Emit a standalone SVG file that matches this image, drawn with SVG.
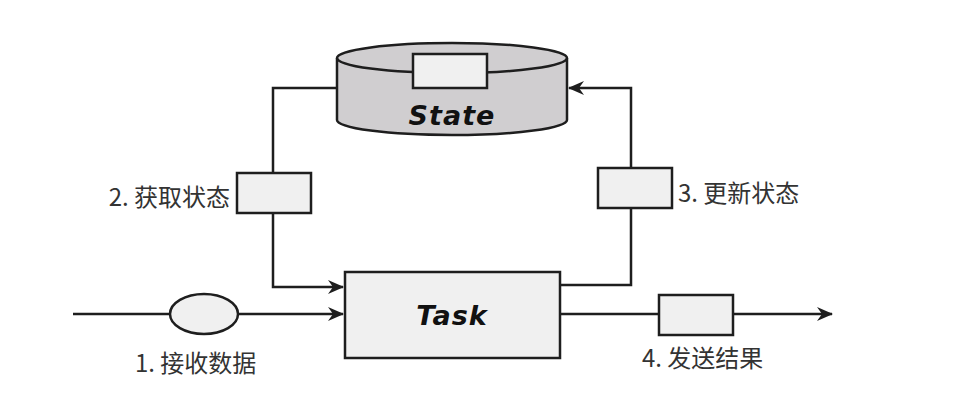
<svg xmlns="http://www.w3.org/2000/svg" width="973" height="413" viewBox="0 0 973 413">
<style>
.s{stroke:#1e1e1e;stroke-width:2.5;fill:none}
.box{fill:#f0f0f0;stroke:#1e1e1e;stroke-width:2.5}
.lbl{font-family:"Noto Sans CJK SC","Noto Sans",sans-serif;font-size:24px;fill:#333}
.big{font-family:"DejaVu Sans",sans-serif;font-weight:bold;font-style:italic;font-size:27px;fill:#111;text-anchor:middle;letter-spacing:1px}
</style>
<defs>
<marker id="ah" markerWidth="16" markerHeight="14" refX="15" refY="7" orient="auto" markerUnits="userSpaceOnUse">
<path d="M0,0 L16,7 L0,14 L5,7 Z" fill="#1e1e1e"/>
</marker>
</defs>
<rect width="973" height="413" fill="#fff"/>
<g id="connectors">
<path class="s" d="M337,88 H273 V287 H343" marker-end="url(#ah)"/>
<path class="s" d="M560,285 H631 V88 H569" marker-end="url(#ah)"/>
<path class="s" d="M73,314 H343" marker-end="url(#ah)"/>
<path class="s" d="M560,314 H832" marker-end="url(#ah)"/>
</g>
<g id="state">
<path d="M337,58 V120 A115,15 0 0 0 567,120 V58 A115,15 0 0 0 337,58 Z" fill="#d0ced0" stroke="#1e1e1e" stroke-width="2.5"/>
<path class="s" d="M337,58 A115,15 0 0 0 567,58"/>
<rect class="box" x="413" y="54" width="74" height="34"/>
<text class="big" x="452" y="125">State</text>
</g>
<g id="task">
<rect class="box" x="345" y="272" width="215" height="86"/>
<text class="big" x="452" y="325">Task</text>
</g>
<g id="get">
<rect class="box" x="237" y="173" width="74" height="40"/>
<text class="lbl" x="230" y="206" text-anchor="end">2. 获取状态</text>
</g>
<g id="update">
<rect class="box" x="598" y="168" width="74" height="40"/>
<text class="lbl" x="678" y="202">3. 更新状态</text>
</g>
<g id="receive">
<ellipse cx="204" cy="314" rx="34" ry="20" fill="#f0f0f0" stroke="#1e1e1e" stroke-width="2.5"/>
<text class="lbl" x="135" y="372">1. 接收数据</text>
</g>
<g id="send">
<rect class="box" x="659" y="295" width="74" height="40"/>
<text class="lbl" x="642" y="367">4. 发送结果</text>
</g>
</svg>
